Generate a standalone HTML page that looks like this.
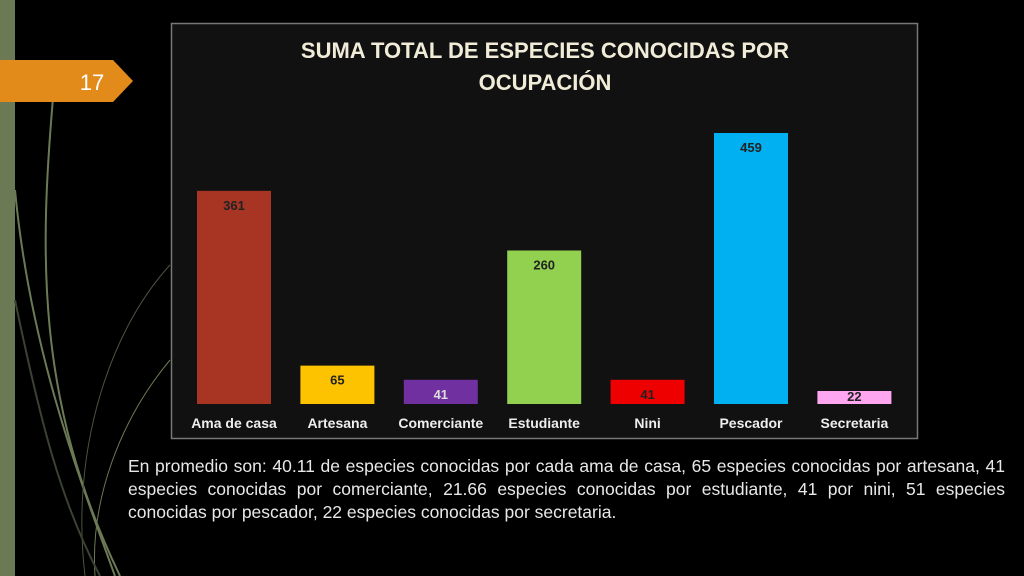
<!DOCTYPE html>
<html><head><meta charset="utf-8"><style>
body{margin:0;width:1024px;height:576px;background:#000;overflow:hidden;position:relative;font-family:"Liberation Sans",sans-serif}
.txt{position:absolute;left:128px;top:455px;width:877px;color:#e8e8e8;font-size:17.5px;line-height:23px;text-align:justify}
</style></head><body>
<svg width="1024" height="576" style="position:absolute;left:0;top:0">
<rect x="0" y="0" width="15" height="576" fill="#6b7a55"/>
<g fill="none" stroke="#6b7a55" stroke-width="2">
<path d="M53 98 C40 250 35 400 120 576"/>
<path d="M15 190 C30 350 80 480 115 576"/>
<path d="M170 265 C110 330 70 450 85 576" stroke-width="1" stroke="#4a5440"/>
<path d="M170 360 C120 420 90 500 95 576" stroke-width="1"/>
<path d="M15 300 C40 420 60 500 100 576" stroke="#3a4232"/>
</g>
<polygon points="0,60 113,60 133,81 113,102 0,102" fill="#e38b1a"/>
<text x="92" y="90" font-size="22" fill="#fff" text-anchor="middle">17</text>
<rect x="171.5" y="23.5" width="746" height="415" fill="#111" stroke="#777" stroke-width="1.5"/>
<text x="545" y="58" font-size="22" font-weight="bold" fill="#f0ecd8" text-anchor="middle">SUMA TOTAL DE ESPECIES CONOCIDAS POR</text>
<text x="545" y="90" font-size="22" font-weight="bold" fill="#f0ecd8" text-anchor="middle">OCUPACIÓN</text>
<g id="bars"></g>
</svg>
<div class="txt">En promedio son: 40.11 de especies conocidas por cada ama de casa, 65 especies conocidas por artesana, 41 especies conocidas por comerciante, 21.66 especies conocidas por estudiante, 41 por nini, 51 especies conocidas por pescador, 22 especies conocidas por secretaria.</div>
<script>
const categories=["Ama de casa","Artesana","Comerciante","Estudiante","Nini","Pescador","Secretaria"];
const values=[361,65,41,260,41,459,22];
const colors=["#a83524","#fdc200","#7030a0","#92d050","#ee0000","#00b0f0","#ffa6f0"];
const labelColors=["#222","#222","#ddd","#222","#222","#222","#222"];
const base=404,scale=271/459,x0=234,step=103.4,bw=74;
const y=v=>base-v*scale, x=i=>x0+i*step;
const g=document.getElementById('bars'),NS="http://www.w3.org/2000/svg";
categories.forEach((c,i)=>{
 const r=document.createElementNS(NS,'rect');
 
 
 r.setAttribute('x',x(i)-bw/2);r.setAttribute('y',y(values[i]));r.setAttribute('width',bw);r.setAttribute('height',base-y(values[i]));r.setAttribute('fill',colors[i]);g.appendChild(r);
 const t=document.createElementNS(NS,'text');
 
 
 t.setAttribute('x',x(i));t.setAttribute('y',Math.min(y(values[i])+19,base-3));t.setAttribute('text-anchor','middle');t.setAttribute('font-size','13');t.setAttribute('font-weight','bold');t.setAttribute('fill',labelColors[i]);t.textContent=values[i];g.appendChild(t);
 const l=document.createElementNS(NS,'text');
 
 
 l.setAttribute('x',x(i));l.setAttribute('y',428);l.setAttribute('text-anchor','middle');l.setAttribute('font-size','14');l.setAttribute('font-weight','bold');l.setAttribute('fill','#eee');l.textContent=c;g.appendChild(l);
});
</script>
</body></html>
